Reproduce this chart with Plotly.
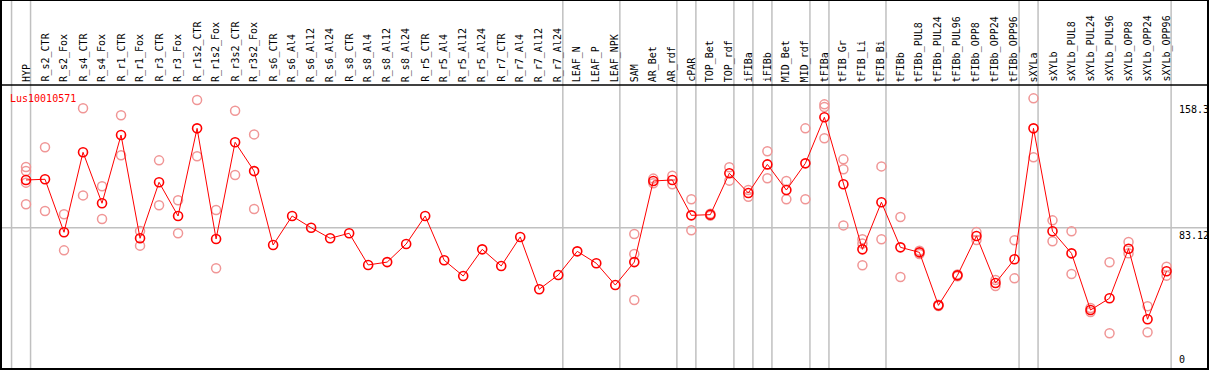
import plotly.graph_objects as go

cats = ["HYP", "R_s2_CTR", "R_s2_Fox", "R_s4_CTR", "R_s4_Fox", "R_r1_CTR", "R_r1_Fox",
        "R_r3_CTR", "R_r3_Fox", "R_r1s2_CTR", "R_r1s2_Fox", "R_r3s2_CTR", "R_r3s2_Fox",
        "R_s6_CTR", "R_s6_Al4", "R_s6_Al12", "R_s6_Al24", "R_s8_CTR", "R_s8_Al4", "R_s8_Al12",
        "R_s8_Al24", "R_r5_CTR", "R_r5_Al4", "R_r5_Al12", "R_r5_Al24", "R_r7_CTR", "R_r7_Al4",
        "R_r7_Al12", "R_r7_Al24", "LEAF_N", "LEAF_P", "LEAF_NPK", "SAM", "AR_Bet", "AR_rdf",
        "cPAR", "TOP_Bet", "TOP_rdf", "iFIBa", "iFIBb", "MID_Bet", "MID_rdf", "tFIBa",
        "tFIB_Gr", "tFIB_Li", "tFIB_Bi", "tFIBb", "tFIBb_PUL8", "tFIBb_PUL24", "tFIBb_PUL96",
        "tFIBb_OPP8", "tFIBb_OPP24", "tFIBb_OPP96", "sXYLa", "sXYLb", "sXYLb_PUL8",
        "sXYLb_PUL24", "sXYLb_PUL96", "sXYLb_OPP8", "sXYLb_OPP24", "sXYLb_OPP96"]

means = [111.6, 112.0, 80.4, 128.1, 97.7, 138.4, 76.8, 110.2, 90.1, 142.4, 76.4, 134.1, 116.9,
         72.8, 90.1, 83.1, 76.8, 79.8, 60.9, 62.6, 73.4, 90.1, 63.7, 54.3, 70.2, 60.3, 77.6,
         46.4, 54.9, 69.0, 61.9, 48.9, 62.6, 111.0, 111.6, 90.5, 90.9, 115.6, 103.8, 120.9,
         105.6, 121.5, 149.0, 109.0, 70.2, 98.3, 71.4, 68.4, 36.8, 54.7, 78.2, 50.1, 64.3,
         142.4, 81.0, 67.8, 34.0, 41.0, 70.6, 28.5, 57.1]

rep1 = ([119.3, 131.1, 91.1, 154.4, 107.8, 150.2, 81.1, 123.3, 99.5, 159.3, 93.7, 152.9, 138.8]
        + [None] * 19
        + [79.4, 109.6, 114.1, 100.1, 91.5, 119.2, 105.6, 128.7, 111.0, 142.4, 156.7, 123.9,
           76.2, 119.7, 89.5, 69.4, 37.2, 55.2, 80.5, 51.9, 75.6, 160.3, 87.5, 81.0, 35.2,
           62.5, 74.6, 36.2, 59.8])
rep2 = ([116.9, 93.1, 69.6, 102.4, 88.3, 126.3, 72.4, 96.5, 79.8, 125.7, 58.9, 114.6, 94.3]
        + [None] * 19
        + [67.4, 112.4, 109.0, 81.6, 90.3, 111.2, 101.6, 112.6, 100.1, 100.1, 155.1, 118.0,
           73.7, 76.2, 53.7, 67.4, 36.4, 54.2, 75.8, 48.3, 52.9, 125.1, 75.0, 55.5, 32.8,
           20.1, 67.8, 20.7, 54.5])
rep3 = [110.0] + [None] * 31 + [40.0] + [None] * 9 + [136.5, 84.5, 60.7] + [None] * 16
rep4 = [97.1] + [None] * 60

group_sizes = [1, 28, 3, 3, 1, 2, 1, 1, 2, 1, 3, 7, 1, 7]
gene = "Lus10010571"
ref_value = 83.12
max_label = 158.3

RED = "#ff0000"
PINK = "rgb(240,150,150)"
GRAY = "#c0c0c0"
FONT = "DejaVu Sans Mono"

W, H = 1209, 370
MT, MB, ML, MR = 85, 1, 1, 1
plot_h = H - MT - MB
top_paper = 1 + MT / plot_h

idx = list(range(len(cats)))
fig = go.Figure()

rx, ry = [], []
for reps in (rep1, rep2, rep3, rep4):
    for i, v in enumerate(reps):
        if v is not None:
            rx.append(i)
            ry.append(v)

fig.add_trace(go.Scatter(
    x=rx, y=ry, mode="markers",
    marker=dict(symbol="circle-open", size=9, color=PINK, line=dict(width=1.5)),
    hoverinfo="skip", showlegend=False, cliponaxis=False))

fig.add_trace(go.Scatter(
    x=idx, y=means, mode="lines+markers",
    line=dict(color=RED, width=1),
    marker=dict(symbol="circle-open", size=9, color=RED, line=dict(width=1.6)),
    showlegend=False, cliponaxis=False))

shapes = []
shapes.append(dict(type="line", xref="paper", yref="y", x0=0, x1=1, y0=ref_value, y1=ref_value,
                   line=dict(color=GRAY, width=1.5), layer="below"))
bounds = [-1]
acc = -1
for g in group_sizes:
    acc += g
    bounds.append(acc)
for b in bounds:
    shapes.append(dict(type="line", xref="x", yref="paper", x0=b + 0.24, x1=b + 0.24,
                       y0=0, y1=top_paper, line=dict(color=GRAY, width=1.5), layer="below"))
shapes.append(dict(type="rect", xref="paper", yref="paper", x0=0, x1=1, y0=0, y1=top_paper,
                   line=dict(color="black", width=2), layer="above"))
shapes.append(dict(type="line", xref="paper", yref="paper", x0=0, x1=1, y0=1, y1=1,
                   line=dict(color="black", width=1.5), layer="above"))

annotations = []
for i, c in enumerate(cats):
    annotations.append(dict(x=i, y=1, xref="x", yref="paper", text=c, textangle=-90,
                            showarrow=False, xanchor="center", yanchor="bottom", yshift=1,
                            font=dict(family=FONT, size=10, color="black")))
annotations.append(dict(x=0, y=1, xref="paper", yref="paper", text=gene, showarrow=False,
                        xanchor="left", yanchor="top", xshift=7, yshift=-6,
                        font=dict(family=FONT, size=10, color=RED)))
for val, txt, anc in ((max_label, "158.3", "top"), (ref_value, "83.12", "top"), (0, "0", "bottom")):
    annotations.append(dict(x=1, y=val, xref="paper", yref="y", text=txt, showarrow=False,
                            xanchor="left", yanchor=anc, xshift=-31,
                            font=dict(family=FONT, size=10, color="black")))

fig.update_layout(
    width=W, height=H,
    margin=dict(l=ML, r=MR, t=MT, b=MB, pad=0),
    paper_bgcolor="white", plot_bgcolor="white",
    xaxis=dict(range=[-1.315, 62.18], showgrid=False, zeroline=False, showticklabels=False,
               showline=False, fixedrange=True),
    yaxis=dict(range=[-1.19, 168.26], showgrid=False, zeroline=False, showticklabels=False,
               showline=False, fixedrange=True),
    shapes=shapes, annotations=annotations, showlegend=False,
)

fig.write_html("out.html", config={"displayModeBar": False},
               post_script="document.body.style.margin='0';document.body.style.overflow='hidden';")
